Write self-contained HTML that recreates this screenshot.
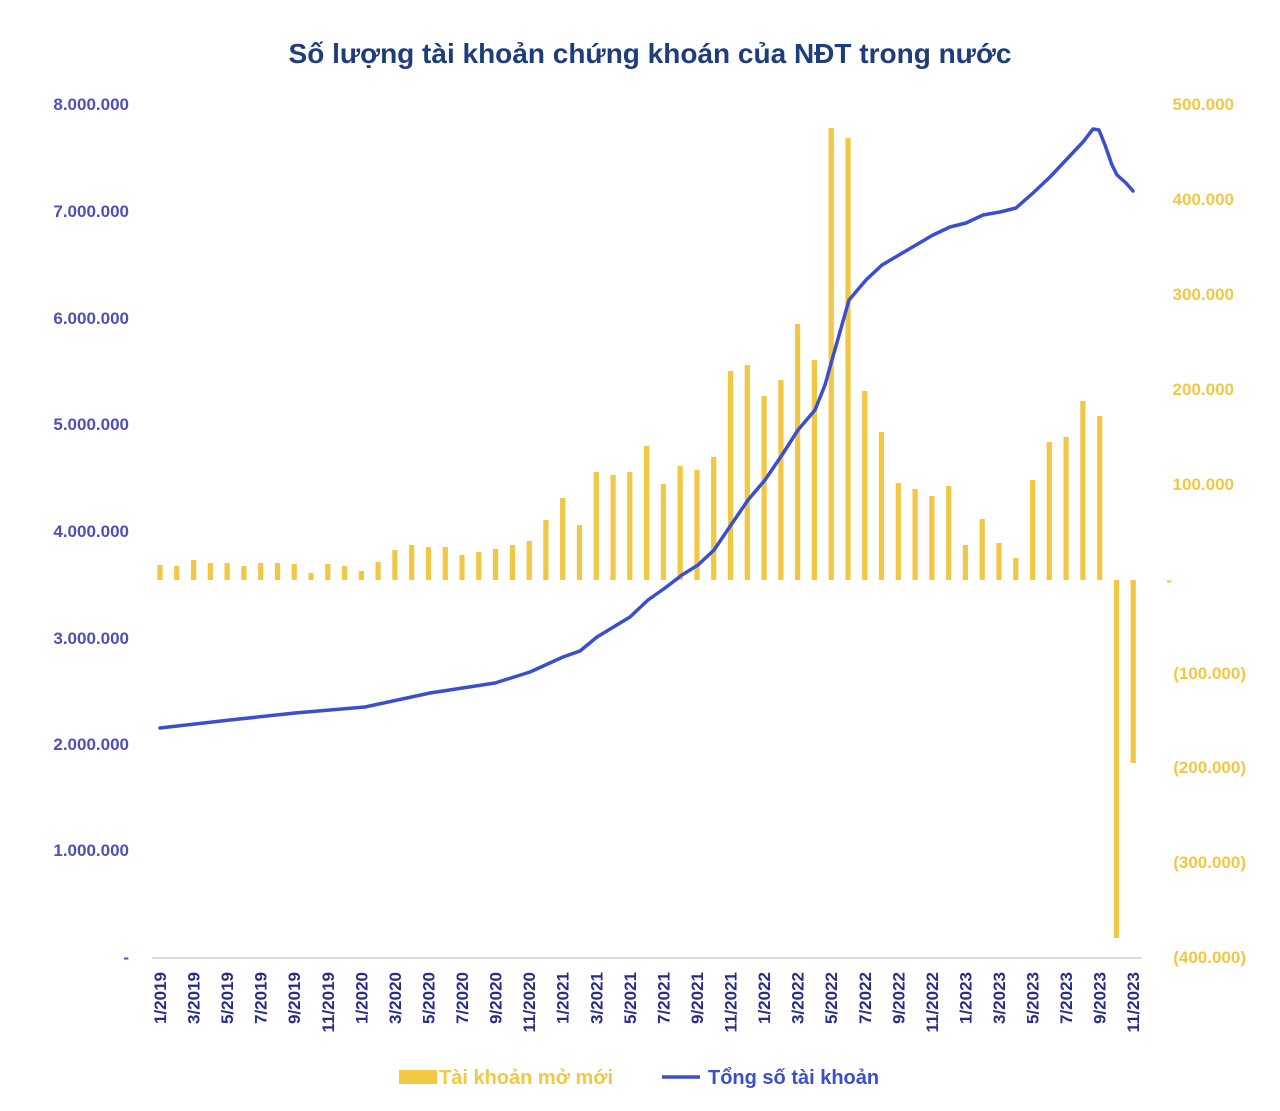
<!DOCTYPE html>
<html><head><meta charset="utf-8"><style>
body{margin:0;background:#fff;}
svg{display:block;font-family:"Liberation Sans",sans-serif;font-weight:bold;}
</style></head><body>
<svg width="1280" height="1111" viewBox="0 0 1280 1111">
<text x="650" y="63" text-anchor="middle" font-size="28" fill="#1f3d7a">Số lượng tài khoản chứng khoán của NĐT trong nước</text>
<g font-size="17" fill="#4f4fb8" text-anchor="end">
<text x="129" y="110">8.000.000</text>
<text x="129" y="217">7.000.000</text>
<text x="129" y="324">6.000.000</text>
<text x="129" y="430">5.000.000</text>
<text x="129" y="537">4.000.000</text>
<text x="129" y="644">3.000.000</text>
<text x="129" y="750">2.000.000</text>
<text x="129" y="856">1.000.000</text>
<text x="129" y="963">-</text>
</g>
<g font-size="17" fill="#f2c744" text-anchor="end">
<text x="1234" y="110">500.000</text>
<text x="1234" y="205">400.000</text>
<text x="1234" y="300">300.000</text>
<text x="1234" y="395">200.000</text>
<text x="1234" y="490">100.000</text>
<text x="1172" y="586">-</text>
<text x="1246" y="679">(100.000)</text>
<text x="1246" y="773">(200.000)</text>
<text x="1246" y="868">(300.000)</text>
<text x="1246" y="963">(400.000)</text>
</g>
<line x1="152" y1="958" x2="1142" y2="958" stroke="#d0d0d0" stroke-width="1.5"/>
<g fill="#f2c744">
<rect x="157.4" y="565" width="5.2" height="15"/>
<rect x="174.2" y="566" width="5.2" height="14"/>
<rect x="191.0" y="560" width="5.2" height="20"/>
<rect x="207.7" y="563" width="5.2" height="17"/>
<rect x="224.5" y="563" width="5.2" height="17"/>
<rect x="241.3" y="566" width="5.2" height="14"/>
<rect x="258.1" y="563" width="5.2" height="17"/>
<rect x="274.9" y="563" width="5.2" height="17"/>
<rect x="291.6" y="564" width="5.2" height="16"/>
<rect x="308.4" y="573" width="5.2" height="7"/>
<rect x="325.2" y="564" width="5.2" height="16"/>
<rect x="342.0" y="566" width="5.2" height="14"/>
<rect x="358.8" y="571" width="5.2" height="9"/>
<rect x="375.5" y="562" width="5.2" height="18"/>
<rect x="392.3" y="550" width="5.2" height="30"/>
<rect x="409.1" y="545" width="5.2" height="35"/>
<rect x="425.9" y="547" width="5.2" height="33"/>
<rect x="442.7" y="547" width="5.2" height="33"/>
<rect x="459.4" y="555" width="5.2" height="25"/>
<rect x="476.2" y="552" width="5.2" height="28"/>
<rect x="493.0" y="549" width="5.2" height="31"/>
<rect x="509.8" y="545" width="5.2" height="35"/>
<rect x="526.6" y="541" width="5.2" height="39"/>
<rect x="543.3" y="520" width="5.2" height="60"/>
<rect x="560.1" y="498" width="5.2" height="82"/>
<rect x="576.9" y="525" width="5.2" height="55"/>
<rect x="593.7" y="472" width="5.2" height="108"/>
<rect x="610.5" y="475" width="5.2" height="105"/>
<rect x="627.2" y="472" width="5.2" height="108"/>
<rect x="644.0" y="446" width="5.2" height="134"/>
<rect x="660.8" y="484" width="5.2" height="96"/>
<rect x="677.6" y="466" width="5.2" height="114"/>
<rect x="694.4" y="470" width="5.2" height="110"/>
<rect x="711.1" y="457" width="5.2" height="123"/>
<rect x="727.9" y="371" width="5.2" height="209"/>
<rect x="744.7" y="365" width="5.2" height="215"/>
<rect x="761.5" y="396" width="5.2" height="184"/>
<rect x="778.3" y="380" width="5.2" height="200"/>
<rect x="795.0" y="324" width="5.2" height="256"/>
<rect x="811.8" y="360" width="5.2" height="220"/>
<rect x="828.6" y="128" width="5.2" height="452"/>
<rect x="845.4" y="138" width="5.2" height="442"/>
<rect x="862.2" y="391" width="5.2" height="189"/>
<rect x="878.9" y="432" width="5.2" height="148"/>
<rect x="895.7" y="483" width="5.2" height="97"/>
<rect x="912.5" y="489" width="5.2" height="91"/>
<rect x="929.3" y="496" width="5.2" height="84"/>
<rect x="946.1" y="486" width="5.2" height="94"/>
<rect x="962.8" y="545" width="5.2" height="35"/>
<rect x="979.6" y="519" width="5.2" height="61"/>
<rect x="996.4" y="543" width="5.2" height="37"/>
<rect x="1013.2" y="558" width="5.2" height="22"/>
<rect x="1030.0" y="480" width="5.2" height="100"/>
<rect x="1046.7" y="442" width="5.2" height="138"/>
<rect x="1063.5" y="437" width="5.2" height="143"/>
<rect x="1080.3" y="401" width="5.2" height="179"/>
<rect x="1097.1" y="416" width="5.2" height="164"/>
<rect x="1113.9" y="580" width="5.2" height="358"/>
<rect x="1130.6" y="580" width="5.2" height="183"/>
</g>
<path fill="none" stroke="#3a4fd0" stroke-width="3.5" stroke-linejoin="round" stroke-linecap="round" d="M160,728 L230,720 L295,713 L365,707 L430,693 L495,683 L530,672 L563,657 L580,651 L597,637 L630,617 L648,600 L665,588 L682,575 L698,565 L714,550 L731,525 L748,500 L765,480 L782,455 L798,430 L815,410 L825,385 L832,360 L849,300 L866,280 L882,265 L899,255 L916,245 L933,235 L950,227 L966,223 L983,215 L1000,212 L1016,208 L1033,193 L1050,177 L1066,160 L1083,142 L1093,129 L1099,130 L1105,145 L1112,165 L1117,175 L1126,183 L1133,191"/>
<g font-size="17" fill="#2a2a8a" text-anchor="end">
<text transform="translate(166,972) rotate(-90)">1/2019</text>
<text transform="translate(199.6,972) rotate(-90)">3/2019</text>
<text transform="translate(233.1,972) rotate(-90)">5/2019</text>
<text transform="translate(266.7,972) rotate(-90)">7/2019</text>
<text transform="translate(300.2,972) rotate(-90)">9/2019</text>
<text transform="translate(333.8,972) rotate(-90)">11/2019</text>
<text transform="translate(367.4,972) rotate(-90)">1/2020</text>
<text transform="translate(400.9,972) rotate(-90)">3/2020</text>
<text transform="translate(434.5,972) rotate(-90)">5/2020</text>
<text transform="translate(468,972) rotate(-90)">7/2020</text>
<text transform="translate(501.6,972) rotate(-90)">9/2020</text>
<text transform="translate(535.2,972) rotate(-90)">11/2020</text>
<text transform="translate(568.7,972) rotate(-90)">1/2021</text>
<text transform="translate(602.3,972) rotate(-90)">3/2021</text>
<text transform="translate(635.8,972) rotate(-90)">5/2021</text>
<text transform="translate(669.4,972) rotate(-90)">7/2021</text>
<text transform="translate(703,972) rotate(-90)">9/2021</text>
<text transform="translate(736.5,972) rotate(-90)">11/2021</text>
<text transform="translate(770.1,972) rotate(-90)">1/2022</text>
<text transform="translate(803.6,972) rotate(-90)">3/2022</text>
<text transform="translate(837.2,972) rotate(-90)">5/2022</text>
<text transform="translate(870.8,972) rotate(-90)">7/2022</text>
<text transform="translate(904.3,972) rotate(-90)">9/2022</text>
<text transform="translate(937.9,972) rotate(-90)">11/2022</text>
<text transform="translate(971.4,972) rotate(-90)">1/2023</text>
<text transform="translate(1005,972) rotate(-90)">3/2023</text>
<text transform="translate(1038.6,972) rotate(-90)">5/2023</text>
<text transform="translate(1072.1,972) rotate(-90)">7/2023</text>
<text transform="translate(1105.7,972) rotate(-90)">9/2023</text>
<text transform="translate(1139.2,972) rotate(-90)">11/2023</text>
</g>
<rect x="399" y="1070" width="38" height="14" fill="#f2c744"/>
<text x="439" y="1084" font-size="20" fill="#f2c744">Tài khoản mở mới</text>
<line x1="662" y1="1077" x2="700" y2="1077" stroke="#3a4fd0" stroke-width="3.5"/>
<text x="708" y="1084" font-size="20" fill="#3a4fd0">Tổng số tài khoản</text>
</svg>
</body></html>
